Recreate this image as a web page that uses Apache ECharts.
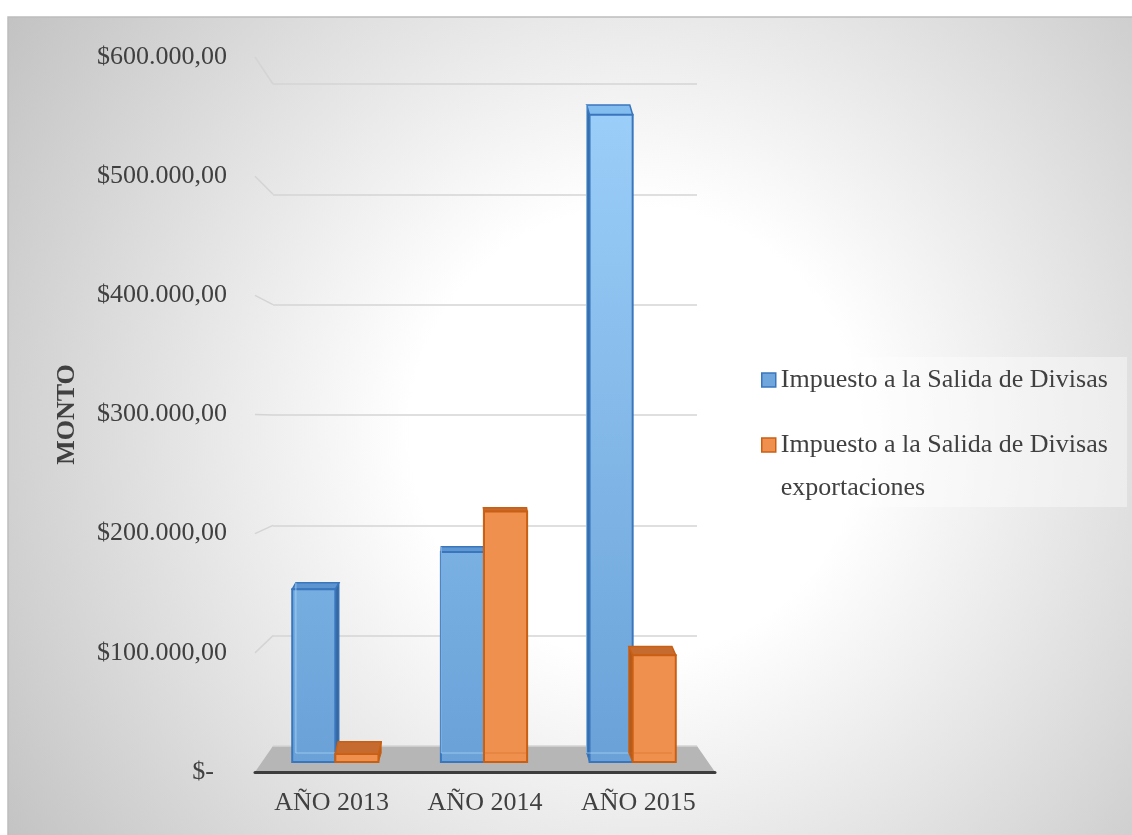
<!DOCTYPE html>
<html>
<head>
<meta charset="utf-8">
<script src="https://cdn.jsdelivr.net/npm/echarts@6/dist/echarts.min.js"></script>
<style>
  html, body { margin: 0; padding: 0; background: #ffffff; }
  #chart { width: 1132px; height: 835px; }
</style>
</head>
<body>
<div id="chart"></div>
<script>
// ---- data ----
const categories = ['AÑO 2013', 'AÑO 2014', 'AÑO 2015'];
const seriesNames = [
  'Impuesto a la Salida de Divisas',
  'Impuesto a la Salida de Divisas exportaciones'
];
const isdValues = [149000, 181000, 558000];
const isdExportValues = [7000, 216000, 92000];
const yTicks = [0, 100000, 200000, 300000, 400000, 500000, 600000];
const axisTitle = 'MONTO';

// ---- look ----
const FONT = "'Liberation Serif', 'Times New Roman', serif";
const TEXT = '#404040';
const BAR_FRAC = 0.29;      // share of a category band taken by one box
const VP_X = 480;           // horizontal vanishing point of the box depth
const EYE_Y = 400;          // eye height used for the top faces
const LEGEND_LINE = 43;

const boxStyles = [
  {
    front: new echarts.graphic.LinearGradient(0, 100, 0, 760, [
      { offset: 0, color: '#9ccff9' },
      { offset: 1, color: '#6aa2d8' }
    ], true),
    top: new echarts.graphic.LinearGradient(0, 100, 0, 760, [
      { offset: 0, color: '#84bdf0' },
      { offset: 1, color: '#4f86c4' }
    ], true),
    side: '#34689f', edge: '#3a76bd',
    inner: 'rgba(175,215,250,0.7)'
  },
  {
    front: '#f0904e', top: '#c66b30', side: '#b35a1e', edge: '#c95f12',
    inner: 'rgba(205,105,35,0.5)'
  }
];

function money(v) {
  if (v === 0) return '$-\u00a0\u00a0';
  const s = Math.round(v).toString().replace(/\B(?=(\d{3})+(?!\d))/g, '.');
  return '$' + s + ',00';
}

function boxRenderer(si) {
  return function (params, api) {
    const i = api.value(0), v = api.value(1);
    const pTop = api.coord([i, v]);
    const pBase = api.coord([i, 0]);
    const band = api.size([1, 0])[0];
    const w = band * BAR_FRAC;
    const x0 = si === 0 ? pTop[0] - w : pTop[0];
    const x1 = x0 + w;
    const yT = pTop[1], yB = pBase[1];
    const dx = (VP_X - (x0 + x1) / 2) * 0.022;
    const dyT = -Math.max(3, Math.abs(yT - EYE_Y) * 0.034);
    const dyB = -9;
    const s = boxStyles[si];
    const sx = dx >= 0 ? x1 : x0;
    return {
      type: 'group',
      children: [
        { type: 'polygon',
          shape: { points: [[sx, yT], [sx + dx, yT + dyT], [sx + dx, yB + dyB], [sx, yB]] },
          style: { fill: s.side, stroke: s.edge, lineWidth: 1 } },
        { type: 'polygon',
          shape: { points: [[x0, yT], [x1, yT], [x1 + dx, yT + dyT], [x0 + dx, yT + dyT]] },
          style: { fill: s.top, stroke: s.edge, lineWidth: 1.5 } },
        { type: 'rect',
          shape: { x: x0, y: yT, width: w, height: yB - yT },
          style: { fill: s.front, stroke: s.edge, lineWidth: 2 } },
        { type: 'polyline',
          shape: { points: [[x0 + dx, yT + dyT], [x0 + dx, yB + dyB], [x1 + dx, yB + dyB]] },
          style: { stroke: s.inner, lineWidth: 1, fill: null } }
      ]
    };
  };
}

const chart = echarts.init(document.getElementById('chart'), null, { renderer: 'canvas' });

const yMin = yTicks[0], yMax = yTicks[yTicks.length - 1], yStep = yTicks[1] - yTicks[0];

const legendText = { fontFamily: FONT, fontSize: 26, color: TEXT, lineHeight: LEGEND_LINE };

chart.setOption({
  animation: false,
  textStyle: { fontFamily: FONT },
  grid: [
    { left: 255, right: 417, top: 57, bottom: 63 },   // front plane: labels + floor edge
    { left: 273, right: 435, top: 84, bottom: 89 },   // back wall: gridlines
    { left: 261, right: 425, top: 66, bottom: 73 }    // boxes
  ],
  xAxis: [
    { type: 'category', gridIndex: 0, data: categories,
      axisLine: { show: true, lineStyle: { color: '#3d3d3d', width: 3 } },
      axisTick: { show: false },
      axisLabel: { fontFamily: FONT, fontSize: 26, color: TEXT, margin: 18 } },
    { type: 'category', gridIndex: 1, data: categories, show: false },
    { type: 'category', gridIndex: 2, data: categories, show: false }
  ],
  yAxis: [
    { type: 'value', gridIndex: 0, min: yMin, max: yMax, interval: yStep,
      name: axisTitle, nameLocation: 'middle', nameGap: 175,
      nameTextStyle: { fontFamily: FONT, fontSize: 26, fontWeight: 'bold', color: TEXT },
      axisLine: { show: false }, axisTick: { show: false }, splitLine: { show: false },
      axisLabel: { fontFamily: FONT, fontSize: 26, color: TEXT, margin: 28, formatter: money } },
    { type: 'value', gridIndex: 1, min: yMin, max: yMax, interval: yStep,
      axisLine: { show: false }, axisTick: { show: false }, axisLabel: { show: false },
      splitLine: { show: true, lineStyle: { color: '#d4d4d4', width: 1.5 } } },
    { type: 'value', gridIndex: 2, min: yMin, max: yMax, show: false,
      splitLine: { show: false } }
  ],
  legend: [
    { orient: 'vertical', left: 761, top: 380 - LEGEND_LINE / 2, padding: 0,
      itemWidth: 14, itemHeight: 14, selectedMode: false, icon: 'rect',
      textStyle: legendText,
      data: [{ name: seriesNames[0],
               itemStyle: { color: '#6fa6dc', borderColor: '#3a76bd', borderWidth: 1.5 } }] },
    { orient: 'vertical', left: 761, top: 445 - LEGEND_LINE * 1.5, padding: 0,
      itemWidth: 14, itemHeight: 14, selectedMode: false, icon: 'rect',
      textStyle: legendText,
      formatter: function (name) {
        return ' \n' + name.replace(' exportaciones', '\nexportaciones');
      },
      data: [{ name: seriesNames[1],
               itemStyle: { color: '#f0904e', borderColor: '#c95f12', borderWidth: 1.5 } }] }
  ],
  series: [
    { name: seriesNames[0], type: 'custom', xAxisIndex: 2, yAxisIndex: 2,
      itemStyle: { color: '#6fa6dc' }, encode: { x: 0, y: 1 },
      renderItem: boxRenderer(0),
      data: isdValues.map(function (v, i) { return [i, v]; }) },
    { name: seriesNames[1], type: 'custom', xAxisIndex: 2, yAxisIndex: 2,
      itemStyle: { color: '#f0904e' }, encode: { x: 0, y: 1 },
      renderItem: boxRenderer(1),
      data: isdExportValues.map(function (v, i) { return [i, v]; }) }
  ]
});

// Background, floor and the left wall edges, placed from the axes' own scales.
const backL = 273, backR = 697, frontL = 255, frontR = 715;
const backZero = chart.convertToPixel({ yAxisIndex: 1 }, 0);
const frontZero = chart.convertToPixel({ yAxisIndex: 0 }, 0);

const wallEdges = yTicks.filter(function (t) { return t > 0; }).map(function (t) {
  return {
    type: 'line', z: -5, silent: true,
    shape: { x1: backL, y1: chart.convertToPixel({ yAxisIndex: 1 }, t),
             x2: frontL, y2: chart.convertToPixel({ yAxisIndex: 0 }, t) },
    style: { stroke: '#d4d4d4', lineWidth: 1.5 }
  };
});

chart.setOption({
  graphic: [
    { type: 'rect', z: -10, silent: true,
      shape: { x: 8, y: 17, width: 1140, height: 830 },
      style: {
        fill: new echarts.graphic.RadialGradient(0.55, 0.5, 0.9, [
          { offset: 0, color: '#ffffff' },
          { offset: 0.3, color: '#ffffff' },
          { offset: 1, color: '#c3c3c3' }
        ]),
        stroke: '#bdbdbd', lineWidth: 1.5
      } },
    { type: 'rect', z: -8, silent: true,
      shape: { x: 747, y: 357, width: 380, height: 150 },
      style: { fill: 'rgba(255,255,255,0.4)' } },
    { type: 'polygon', z: -5, silent: true,
      shape: { points: [[backL, backZero], [backR, backZero], [frontR, frontZero], [frontL, frontZero]] },
      style: { fill: '#b6b6b6' } }
  ].concat(wallEdges)
});
</script>
</body>
</html>
